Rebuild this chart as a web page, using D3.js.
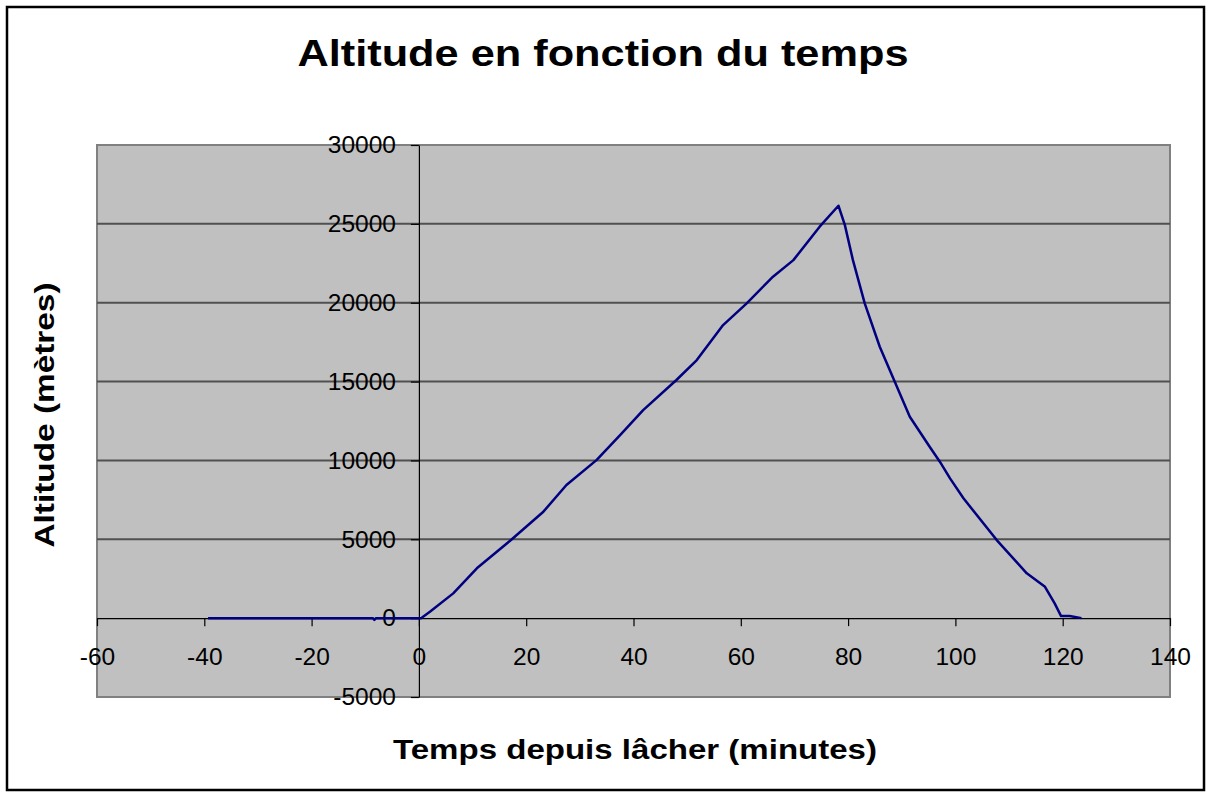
<!DOCTYPE html>
<html>
<head>
<meta charset="utf-8">
<script src="https://cdn.jsdelivr.net/npm/d3@7"></script>
<style>
  html, body { margin: 0; padding: 0; background: #fff; }
  svg { display: block; }
  text { font-family: Arial, "Liberation Sans", sans-serif; fill: #000; }
</style>
</head>
<body>
<svg id="chart" width="1212" height="798"></svg>
<script>
// Flight record: minutes since release vs altitude in metres
const minutes = [-39.3, -8.6, -8.3, -8.0, 0, 0.4, 2.05, 6.4, 10.8, 17.0, 23.2, 27.5, 33.1, 37.5, 41.8,
  48.0, 51.8, 56.7, 61.1, 66.0, 69.8, 74.7, 78.2, 79.4, 80.9, 83.1, 85.9, 88.7, 91.5, 95.2,
  97.1, 99.0, 101.5, 107.7, 113.3, 116.7, 118.5, 119.7, 121.3, 123.5];
const altitude = [0, 0, -110, 0, 0, 0, 405, 1570, 3160, 4910, 6750, 8440, 10020, 11610, 13190,
  15100, 16360, 18580, 19960, 21650, 22700, 24820, 26150, 24920, 22700, 19960, 17210, 14990, 12770, 10870,
  9920, 8860, 7600, 4950, 2840, 1990, 940, 130, 130, 0];

const xTicks = [-60, -40, -20, 0, 20, 40, 60, 80, 100, 120, 140];
const yTicks = [-5000, 0, 5000, 10000, 15000, 20000, 25000, 30000];

const titleText = "Altitude en fonction du temps";
const xTitle = "Temps depuis lâcher (minutes)";
const yTitle = "Altitude (mètres)";

const svg = d3.select("#chart");
const plot = { left: 97, right: 1170, top: 145, bottom: 697 };
const tickFont = "Arial, 'Liberation Sans', sans-serif";
const plainNumber = d => String(d);   // keep a plain hyphen for negatives

// outer frame
svg.append("rect").attr("x", 7).attr("y", 7).attr("width", 1197).attr("height", 783)
  .attr("fill", "#fff").attr("stroke", "#000").attr("stroke-width", 2.5);

const x = d3.scaleLinear().domain([-60, 140]).range([plot.left, plot.right]);
const y = d3.scaleLinear().domain([-5000, 30000]).range([plot.bottom, plot.top]);

// plot area
svg.append("rect")
  .attr("x", plot.left).attr("y", plot.top)
  .attr("width", plot.right - plot.left).attr("height", plot.bottom - plot.top)
  .attr("fill", "#c0c0c0").attr("stroke", "#808080").attr("stroke-width", 2);

// horizontal gridlines
svg.append("g").selectAll("line")
  .data(yTicks.filter(v => v !== 0 && v !== -5000 && v !== 30000))
  .join("line")
  .attr("x1", plot.left).attr("x2", plot.right)
  .attr("y1", d => y(d)).attr("y2", d => y(d))
  .attr("stroke", "#505050").attr("stroke-width", 2);

// x axis crossing at altitude 0
const xAxis = d3.axisBottom(x).tickValues(xTicks).tickSize(8).tickSizeOuter(0).tickPadding(21)
  .tickFormat(plainNumber);
const gx = svg.append("g").attr("transform", `translate(0,${y(0)})`).call(xAxis);
gx.select(".domain").attr("stroke", "#000").attr("stroke-width", 1.2);
gx.selectAll(".tick line").attr("stroke", "#000").attr("stroke-width", 1.2);
gx.selectAll(".tick text").attr("font-size", 24.5).attr("font-family", tickFont).attr("fill", "#000");

// y axis crossing at minute 0
const yAxis = d3.axisLeft(y).tickValues(yTicks).tickSize(8).tickSizeOuter(0).tickPadding(15)
  .tickFormat(plainNumber);
const gy = svg.append("g").attr("transform", `translate(${x(0)},0)`).call(yAxis);
gy.select(".domain").attr("stroke", "#000").attr("stroke-width", 1.2);
gy.selectAll(".tick line").attr("stroke", "#000").attr("stroke-width", 1.2);
gy.selectAll(".tick text").attr("font-size", 24.5).attr("font-family", tickFont).attr("fill", "#000");

// altitude trace
const pts = minutes.map((m, i) => [m, altitude[i]]);
svg.append("path")
  .datum(pts)
  .attr("d", d3.line().x(d => x(d[0])).y(d => y(d[1])))
  .attr("fill", "none").attr("stroke", "#000080").attr("stroke-width", 2.5)
  .attr("stroke-linejoin", "round");

// titles
svg.append("text").attr("x", 603).attr("y", 66).attr("text-anchor", "middle")
  .attr("font-size", 36).attr("font-weight", "bold")
  .attr("textLength", 611).attr("lengthAdjust", "spacingAndGlyphs")
  .text(titleText);

svg.append("text").attr("x", 635).attr("y", 759).attr("text-anchor", "middle")
  .attr("font-size", 28).attr("font-weight", "bold")
  .attr("textLength", 484).attr("lengthAdjust", "spacingAndGlyphs")
  .text(xTitle);

svg.append("text").attr("transform", "translate(54,415) rotate(-90)")
  .attr("text-anchor", "middle")
  .attr("font-size", 28).attr("font-weight", "bold")
  .attr("textLength", 265).attr("lengthAdjust", "spacingAndGlyphs")
  .text(yTitle);
</script>
</body>
</html>
